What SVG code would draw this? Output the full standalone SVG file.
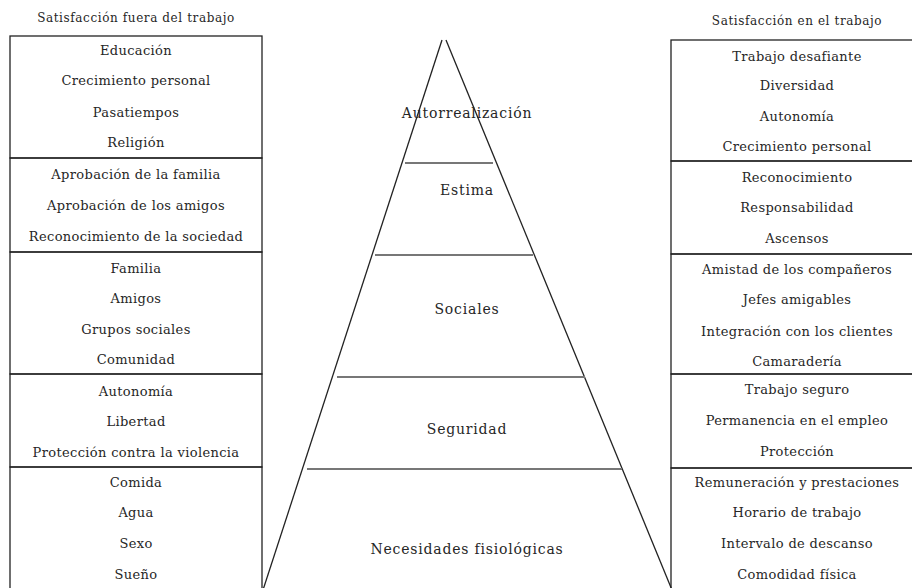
<svg xmlns="http://www.w3.org/2000/svg" width="912" height="588" viewBox="0 0 912 588">
<style>
  text { font-family: "DejaVu Serif", "Liberation Serif", serif; fill: #262626; text-anchor: middle; }
  .hdr { font-size: 12px; letter-spacing: 0.6px; }
  .item { font-size: 13px; letter-spacing: 0.35px; }
  .lvl { font-size: 14px; letter-spacing: 0.8px; }
  .box { fill: none; stroke: #222; stroke-width: 1.3; }
  .pyr { fill: none; stroke: #222; stroke-width: 1.3; }
  .div { stroke: #777; stroke-width: 2; }
</style>
<rect width="912" height="588" fill="#fff"/>

<g id="header-left"><text class="hdr" x="136" y="22">Satisfacción fuera del trabajo</text></g>
<g id="header-right"><text class="hdr" x="797" y="25">Satisfacción en el trabajo</text></g>

<g id="left-autorrealizacion">
  <rect class="box" x="10" y="36" width="252" height="122"/>
  <text class="item" x="136" y="55">Educación</text>
  <text class="item" x="136" y="85">Crecimiento personal</text>
  <text class="item" x="136" y="117">Pasatiempos</text>
  <text class="item" x="136" y="147">Religión</text>
</g>
<g id="left-estima">
  <rect class="box" x="10" y="158" width="252" height="94"/>
  <text class="item" x="136" y="179">Aprobación de la familia</text>
  <text class="item" x="136" y="210">Aprobación de los amigos</text>
  <text class="item" x="136" y="241">Reconocimiento de la sociedad</text>
</g>
<g id="left-sociales">
  <rect class="box" x="10" y="252" width="252" height="122"/>
  <text class="item" x="136" y="273">Familia</text>
  <text class="item" x="136" y="303">Amigos</text>
  <text class="item" x="136" y="334">Grupos sociales</text>
  <text class="item" x="136" y="364">Comunidad</text>
</g>
<g id="left-seguridad">
  <rect class="box" x="10" y="374" width="252" height="93"/>
  <text class="item" x="136" y="396">Autonomía</text>
  <text class="item" x="136" y="426">Libertad</text>
  <text class="item" x="136" y="457">Protección contra la violencia</text>
</g>
<g id="left-fisiologicas">
  <rect class="box" x="10" y="467" width="252" height="130"/>
  <text class="item" x="136" y="487">Comida</text>
  <text class="item" x="136" y="517">Agua</text>
  <text class="item" x="136" y="548">Sexo</text>
  <text class="item" x="136" y="579">Sueño</text>
</g>

<g id="right-autorrealizacion">
  <rect class="box" x="671" y="40" width="250" height="121"/>
  <text class="item" x="797" y="61">Trabajo desafiante</text>
  <text class="item" x="797" y="90">Diversidad</text>
  <text class="item" x="797" y="121">Autonomía</text>
  <text class="item" x="797" y="151">Crecimiento personal</text>
</g>
<g id="right-estima">
  <rect class="box" x="671" y="161" width="250" height="93"/>
  <text class="item" x="797" y="182">Reconocimiento</text>
  <text class="item" x="797" y="212">Responsabilidad</text>
  <text class="item" x="797" y="243">Ascensos</text>
</g>
<g id="right-sociales">
  <rect class="box" x="671" y="254" width="250" height="120"/>
  <text class="item" x="797" y="274">Amistad de los compañeros</text>
  <text class="item" x="797" y="304">Jefes amigables</text>
  <text class="item" x="797" y="336">Integración con los clientes</text>
  <text class="item" x="797" y="366">Camaradería</text>
</g>
<g id="right-seguridad">
  <rect class="box" x="671" y="374" width="250" height="94"/>
  <text class="item" x="797" y="394">Trabajo seguro</text>
  <text class="item" x="797" y="425">Permanencia en el empleo</text>
  <text class="item" x="797" y="456">Protección</text>
</g>
<g id="right-fisiologicas">
  <rect class="box" x="671" y="468" width="250" height="130"/>
  <text class="item" x="797" y="487">Remuneración y prestaciones</text>
  <text class="item" x="797" y="517">Horario de trabajo</text>
  <text class="item" x="797" y="548">Intervalo de descanso</text>
  <text class="item" x="797" y="579">Comodidad física</text>
</g>

<g id="pyramid">
  <polyline class="pyr" points="263,590 442,40"/>
  <polyline class="pyr" points="446,40 672,590"/>
  <g id="level-autorrealizacion"><text class="lvl" x="467" y="118">Autorrealización</text></g>
  <line class="div" x1="405" y1="163" x2="493" y2="163"/>
  <g id="level-estima"><text class="lvl" x="467" y="195">Estima</text></g>
  <line class="div" x1="375" y1="255" x2="533" y2="255"/>
  <g id="level-sociales"><text class="lvl" x="467" y="314">Sociales</text></g>
  <line class="div" x1="337" y1="377" x2="585" y2="377"/>
  <g id="level-seguridad"><text class="lvl" x="467" y="434">Seguridad</text></g>
  <line class="div" x1="307" y1="469" x2="622" y2="469"/>
  <g id="level-fisiologicas"><text class="lvl" x="467" y="554">Necesidades fisiológicas</text></g>
</g>
</svg>
